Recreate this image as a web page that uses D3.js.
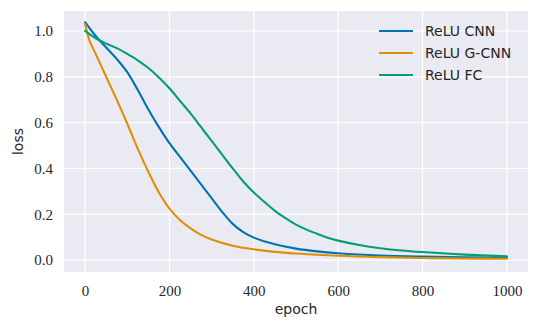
<!DOCTYPE html>
<html><head><meta charset="utf-8">
<script src="https://cdn.jsdelivr.net/npm/d3@7"></script>
<style>body{margin:0;background:#fff}svg{display:block}</style>
</head><body><svg id="c" width="540" height="330"></svg>
<script>
const xTicks = [0, 200, 400, 600, 800, 1000];
const yTicks = [0.0, 0.2, 0.4, 0.6, 0.8, 1.0];
const seriesNames = ["ReLU CNN", "ReLU G-CNN", "ReLU FC"];
const cnnEpochs = [0,25,50,75,100,125,150,175,200,225,250,275,300,325,350,375,400,450,500,550,600,700,800,900,1000];
const cnnLoss   = [1.038,0.978,0.928,0.878,0.82,0.742,0.657,0.58,0.51,0.45,0.39,0.33,0.27,0.21,0.158,0.122,0.098,0.069,0.05,0.038,0.03,0.02,0.015,0.012,0.01];
const gcnnEpochs = [0,10,25,50,75,100,125,150,175,200,225,250,275,300,350,400,450,500,600,700,800,900,1000];
const gcnnLoss   = [1.03,0.96,0.90,0.80,0.70,0.595,0.485,0.385,0.295,0.225,0.175,0.138,0.11,0.09,0.063,0.047,0.036,0.029,0.019,0.013,0.009,0.007,0.006];
const fcEpochs = [0,25,50,75,100,125,150,175,200,225,250,275,300,325,350,375,400,425,450,475,500,525,550,575,600,650,700,750,800,900,1000];
const fcLoss   = [1.0,0.968,0.945,0.925,0.90,0.872,0.838,0.797,0.75,0.695,0.64,0.58,0.52,0.46,0.40,0.343,0.295,0.254,0.215,0.183,0.155,0.133,0.115,0.098,0.085,0.066,0.052,0.042,0.035,0.024,0.016];
const colors = ["#0173b2", "#de8f05", "#029e73"];

const series = [
  {name: seriesNames[0], pts: cnnEpochs.map((e,i)=>[e, cnnLoss[i]]), color: colors[0]},
  {name: seriesNames[1], pts: gcnnEpochs.map((e,i)=>[e, gcnnLoss[i]]), color: colors[1]},
  {name: seriesNames[2], pts: fcEpochs.map((e,i)=>[e, fcLoss[i]]), color: colors[2]}
];

const L = 64, R = 528, T = 11, B = 272;
const x = d3.scaleLinear().domain([-50, 1050]).range([L, R]);
const y = d3.scaleLinear().domain([-0.052, 1.087]).range([B, T]);
const svg = d3.select("#c");

svg.append("rect").attr("x", L).attr("y", T).attr("width", R-L).attr("height", B-T).attr("fill", "#eaeaf2");

const g = svg.append("g");
g.selectAll(".vx").data(xTicks).enter().append("line")
  .attr("x1", d=>x(d)).attr("x2", d=>x(d)).attr("y1", T).attr("y2", B)
  .attr("stroke", "#fff").attr("stroke-width", 1.3);
g.selectAll(".hy").data(yTicks).enter().append("line")
  .attr("y1", d=>y(d)).attr("y2", d=>y(d)).attr("x1", L).attr("x2", R)
  .attr("stroke", "#fff").attr("stroke-width", 1.3);

const xAxis = svg.append("g").attr("transform", `translate(0,${B})`)
  .call(d3.axisBottom(x).tickValues(xTicks).tickSize(0).tickPadding(13).tickFormat(d3.format("d")));
const yAxis = svg.append("g").attr("transform", `translate(${L},0)`)
  .call(d3.axisLeft(y).tickValues(yTicks).tickSize(0).tickPadding(11).tickFormat(d3.format(".1f")));
[xAxis, yAxis].forEach(a => {
  a.select(".domain").remove();
  a.selectAll("text").attr("font-family", "'Liberation Serif', serif").attr("font-size", 15).attr("fill", "#262626");
});

const line = d3.line().x(d=>x(d[0])).y(d=>y(d[1])).curve(d3.curveCatmullRom.alpha(0.5));
svg.append("g").selectAll("path").data(series).enter().append("path")
  .attr("d", d=>line(d.pts)).attr("fill", "none").attr("stroke", d=>d.color)
  .attr("stroke-width", 2.1).attr("stroke-linecap", "round").attr("stroke-linejoin", "round");

svg.append("text").attr("x", (L+R)/2).attr("y", 314).attr("text-anchor", "middle")
  .attr("font-family", "'DejaVu Sans', sans-serif").attr("font-size", 14).attr("fill", "#262626").text("epoch");
svg.append("text").attr("transform", `translate(23,${(T+B)/2}) rotate(-90)`).attr("text-anchor", "middle")
  .attr("font-family", "'DejaVu Sans', sans-serif").attr("font-size", 14).attr("fill", "#262626").text("loss");

const lg = svg.append("g");
series.forEach((s, i) => {
  const yy = 31 + i*22;
  lg.append("line").attr("x1", 379).attr("x2", 413).attr("y1", yy).attr("y2", yy)
    .attr("stroke", s.color).attr("stroke-width", 2.1);
  lg.append("text").attr("x", 425).attr("y", yy+5).attr("font-family", "'DejaVu Sans', sans-serif")
    .attr("font-size", 14).attr("fill", "#262626").text(s.name);
});
</script></body></html>
